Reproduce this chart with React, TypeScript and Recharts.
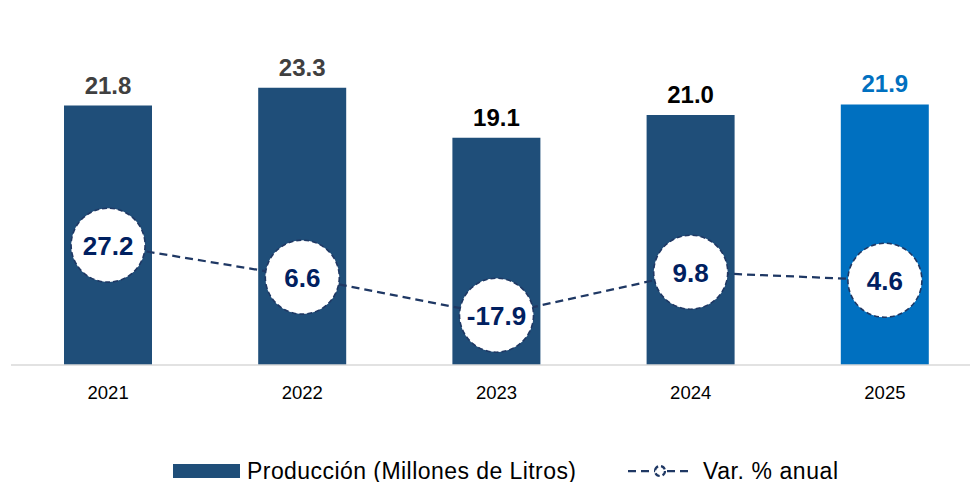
import React from 'react';
import { ComposedChart, Bar, Line, XAxis, YAxis, Cell, LabelList, Legend } from 'recharts';

const years = ['2021', '2022', '2023', '2024', '2025'];
const produccion = [21.8, 23.3, 19.1, 21.0, 21.9];
const variacion = [27.2, 6.6, -17.9, 9.8, 4.6];
const barColors = ['#1F4E79', '#1F4E79', '#1F4E79', '#1F4E79', '#0070C0'];
const labelColors = ['#404040', '#404040', '#000000', '#000000', '#0070C0'];

const data = years.map((y, i) => ({ year: y, prod: produccion[i], var: variacion[i] }));

const FONT = '"Liberation Sans", Arial, sans-serif';
const NAVY = '#1F3864';

const BarLabel = (props: any) => {
  const { x, y, width, index, value } = props;
  return (
    <text
      x={x + width / 2}
      y={y - 12}
      textAnchor="middle"
      fontFamily={FONT}
      fontWeight="bold"
      fontSize={24}
      fill={labelColors[index]}
    >
      {Number(value).toFixed(1)}
    </text>
  );
};

const CircleDot = (props: any) => {
  const { cx, cy, value, index } = props;
  if (cx == null || cy == null) return null;
  return (
    <g key={`dot-${index}`}>
      <circle cx={cx} cy={cy} r={37} fill="#FFFFFF" stroke={NAVY} strokeWidth={1.6} strokeDasharray="5 3" />
      <text
        x={cx}
        y={cy + 9.5}
        textAnchor="middle"
        fontFamily={FONT}
        fontWeight="bold"
        fontSize={26}
        fill="#002060"
      >
        {Number(value).toFixed(1)}
      </text>
    </g>
  );
};

const LegendContent = () => (
  <svg width={970} height={30} style={{ display: 'block' }}>
    <rect x={173} y={12} width={67} height={14} fill="#1F4E79" />
    <text x={247} y={26.5} fontFamily={FONT} fontSize={23} fill="#000" textLength={329} lengthAdjust="spacing">
      Producción (Millones de Litros)
    </text>
    <line x1={628} y1={19} x2={692} y2={19} stroke={NAVY} strokeWidth={2.25} strokeDasharray="8 5" />
    <circle cx={660} cy={19} r={5} fill="#fff" stroke={NAVY} strokeWidth={2.2} strokeDasharray="5 3" />
    <text x={703} y={26.5} fontFamily={FONT} fontSize={23} fill="#000" textLength={135} lengthAdjust="spacing">
      Var. % anual
    </text>
  </svg>
);

export default function App() {
  return (
    <div style={{ position: 'absolute', left: 0, top: 0, width: 970, height: 482, overflow: 'hidden', background: '#fff' }}>
      <ComposedChart
        width={990}
        height={482}
        data={data}
        margin={{ top: 8, right: 8, left: 11, bottom: 87 }}
        barCategoryGap="27%"
      >
        <XAxis
          dataKey="year"
          xAxisId={0}
          height={30}
          tickLine={false}
          axisLine={{ stroke: '#D9D9D9', strokeWidth: 1.5 }}
          tick={{ fontSize: 18.5, fill: '#000', fontFamily: FONT }}
          tickMargin={15}
          interval={0}
        />
        <YAxis yAxisId="left" domain={[0, 30]} hide />
        <YAxis yAxisId="right" orientation="right" domain={[-50, 180]} hide />
        <Bar dataKey="prod" yAxisId="left" barSize={88} isAnimationActive={false}>
          {data.map((d, i) => (
            <Cell key={d.year} fill={barColors[i]} />
          ))}
          <LabelList dataKey="prod" content={BarLabel} />
        </Bar>
        <Line
          dataKey="var"
          yAxisId="right"
          type="linear"
          stroke={NAVY}
          strokeWidth={2.25}
          strokeDasharray="8 5"
          dot={CircleDot}
          activeDot={false}
          isAnimationActive={false}
        />
        <Legend
          layout="horizontal"
          verticalAlign="middle"
          align="center"
          wrapperStyle={{ top: 452, left: 0, width: 970, height: 30 }}
          content={LegendContent}
        />
      </ComposedChart>
    </div>
  );
}
